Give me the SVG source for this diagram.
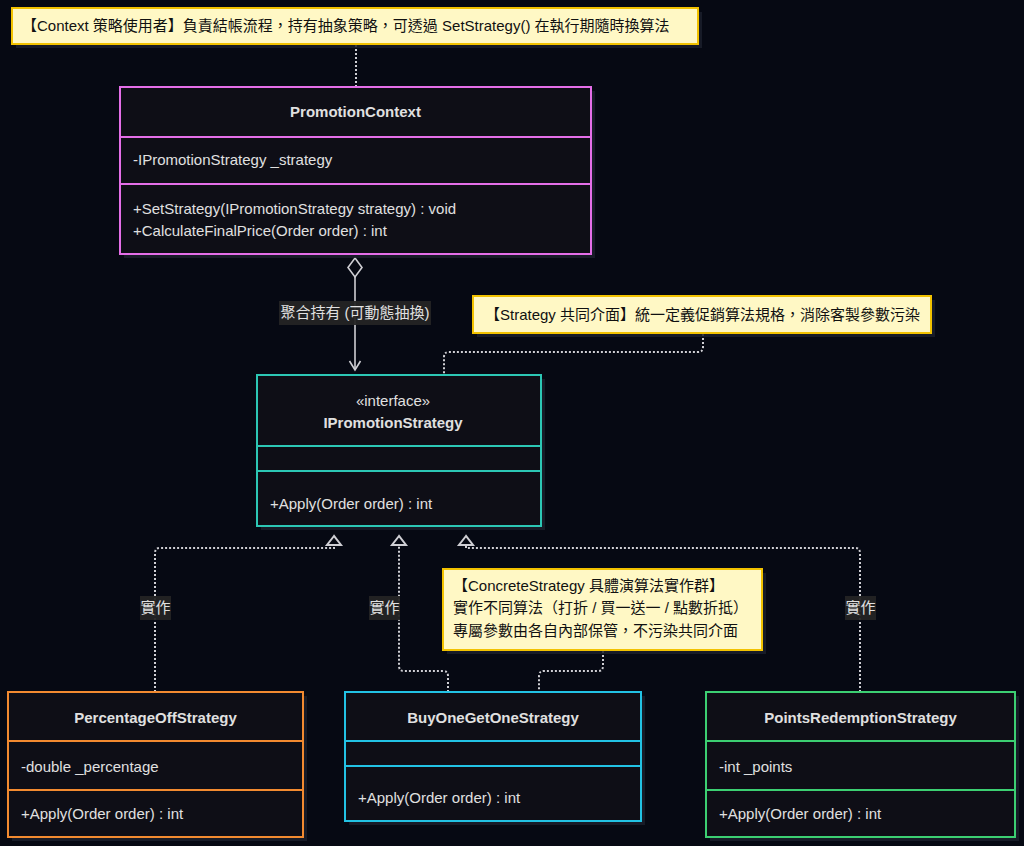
<svg xmlns="http://www.w3.org/2000/svg" width="1024" height="846" viewBox="0 0 1024 846">
<style>
text{font-family:"Liberation Sans","Noto Sans CJK TC",sans-serif;font-size:15px;fill:#e0e0e0}
.nm{font-weight:bold;text-anchor:middle}
.c{text-anchor:middle}
.nt{fill:#111111}
.box{fill:#0e0e16;stroke-width:2}
.sh{fill:#1b1e2b;opacity:0.85}
.note{fill:#fff8c5;stroke:#f2c200;stroke-width:2}
.dot{fill:none;stroke:#cfcfd4;stroke-width:2;stroke-dasharray:2 2}
.ln{fill:none;stroke:#cfcfd4;stroke-width:1.6}
.lbl{fill:#242424;opacity:0.95}
</style>
<rect width="1024" height="846" fill="#060913"/>

<g id="connectors">
  <path class="dot" d="M356,45 V87"/>
  <path class="dot" d="M703,334 V347 Q703,352 698,352 H449 Q444,352 444,357 V375"/>
  <path class="dot" d="M155,692 V553 Q155,548 160,548 H334 V546"/>
  <path class="dot" d="M448,692 V676 Q448,671 443,671 H404 Q399,671 399,666 V546"/>
  <path class="dot" d="M860,692 V553 Q860,548 855,548 H466 V546"/>
  <path class="dot" d="M603,651 V666 Q603,671 598,671 H544 Q539,671 539,676 V692"/>
  <polygon points="334,536 327,545 341,545" fill="#060913" stroke="#cfcfd4" stroke-width="2"/>
  <polygon points="399,536 392,545 406,545" fill="#060913" stroke="#cfcfd4" stroke-width="2"/>
  <polygon points="466,536 459,545 473,545" fill="#060913" stroke="#cfcfd4" stroke-width="2"/>
  <path class="ln" d="M355,277 V369"/>
  <polygon points="355,258 362,267.5 355,277 348,267.5" fill="#060913" stroke="#cfcfd4" stroke-width="1.6"/>
  <path class="ln" d="M349.5,361 L355,370 L360.5,361"/>
  <rect class="lbl" x="279" y="301" width="152" height="24"/>
  <text class="c" x="355" y="318">聚合持有 (可動態抽換)</text>
  <rect class="lbl" x="140" y="596" width="31" height="24"/>
  <text class="c" x="155.5" y="613">實作</text>
  <rect class="lbl" x="369" y="596" width="31" height="24"/>
  <text class="c" x="384.5" y="613">實作</text>
  <rect class="lbl" x="845" y="596" width="31" height="24"/>
  <text class="c" x="860.5" y="613">實作</text>
</g>

<g id="note-context">
  <rect class="sh" x="16" y="12" width="686" height="36"/>
  <rect class="note" x="12" y="8" width="686" height="36"/>
  <text class="nt" x="22" y="31">【Context 策略使用者】負責結帳流程，持有抽象策略，可透過 SetStrategy() 在執行期隨時換算法</text>
</g>

<g id="PromotionContext">
  <rect class="sh" x="124" y="91" width="471" height="167"/>
  <rect class="box" x="120" y="87" width="471" height="167" stroke="#e46ee8"/>
  <path d="M120,137 H591 M120,184 H591" stroke="#e46ee8" stroke-width="2"/>
  <text class="nm" x="355.5" y="117">PromotionContext</text>
  <text x="133" y="165">-IPromotionStrategy _strategy</text>
  <text x="133" y="214">+SetStrategy(IPromotionStrategy strategy) : void</text>
  <text x="133" y="236">+CalculateFinalPrice(Order order) : int</text>
</g>

<g id="note-strategy">
  <rect class="sh" x="477" y="300" width="458" height="37"/>
  <rect class="note" x="473" y="296" width="458" height="37"/>
  <text class="nt" x="485" y="320">【Strategy 共同介面】統一定義促銷算法規格，消除客製參數污染</text>
</g>

<g id="IPromotionStrategy">
  <rect class="sh" x="261" y="379" width="284" height="151"/>
  <rect class="box" x="257" y="375" width="284" height="151" stroke="#2cc7b5"/>
  <path d="M257,446 H541 M257,471 H541" stroke="#2cc7b5" stroke-width="2"/>
  <text class="c" x="393" y="406">«interface»</text>
  <text class="nm" x="393" y="428">IPromotionStrategy</text>
  <text x="270" y="509">+Apply(Order order) : int</text>
</g>

<g id="note-concrete">
  <rect class="sh" x="447" y="573" width="319" height="81"/>
  <rect class="note" x="443" y="569" width="319" height="81"/>
  <text class="nt" x="453" y="591">【ConcreteStrategy 具體演算法實作群】</text>
  <text class="nt" x="453" y="613">實作不同算法（打折 / 買一送一 / 點數折抵）</text>
  <text class="nt" x="453" y="636">專屬參數由各自內部保管，不污染共同介面</text>
</g>

<g id="PercentageOffStrategy">
  <rect class="sh" x="12" y="696" width="295" height="145"/>
  <rect class="box" x="8" y="692" width="295" height="145" stroke="#f28a30"/>
  <path d="M8,741 H303 M8,790 H303" stroke="#f28a30" stroke-width="2"/>
  <text class="nm" x="155.5" y="723">PercentageOffStrategy</text>
  <text x="21" y="772">-double _percentage</text>
  <text x="21" y="819">+Apply(Order order) : int</text>
</g>

<g id="BuyOneGetOneStrategy">
  <rect class="sh" x="349" y="696" width="296" height="129"/>
  <rect class="box" x="345" y="692" width="296" height="129" stroke="#22c2e4"/>
  <path d="M345,741 H641 M345,766 H641" stroke="#22c2e4" stroke-width="2"/>
  <text class="nm" x="493" y="723">BuyOneGetOneStrategy</text>
  <text x="358" y="803">+Apply(Order order) : int</text>
</g>

<g id="PointsRedemptionStrategy">
  <rect class="sh" x="710" y="696" width="309" height="145"/>
  <rect class="box" x="706" y="692" width="309" height="145" stroke="#3ccf72"/>
  <path d="M706,741 H1015 M706,790 H1015" stroke="#3ccf72" stroke-width="2"/>
  <text class="nm" x="860.5" y="723">PointsRedemptionStrategy</text>
  <text x="719" y="772">-int _points</text>
  <text x="719" y="819">+Apply(Order order) : int</text>
</g>
</svg>
